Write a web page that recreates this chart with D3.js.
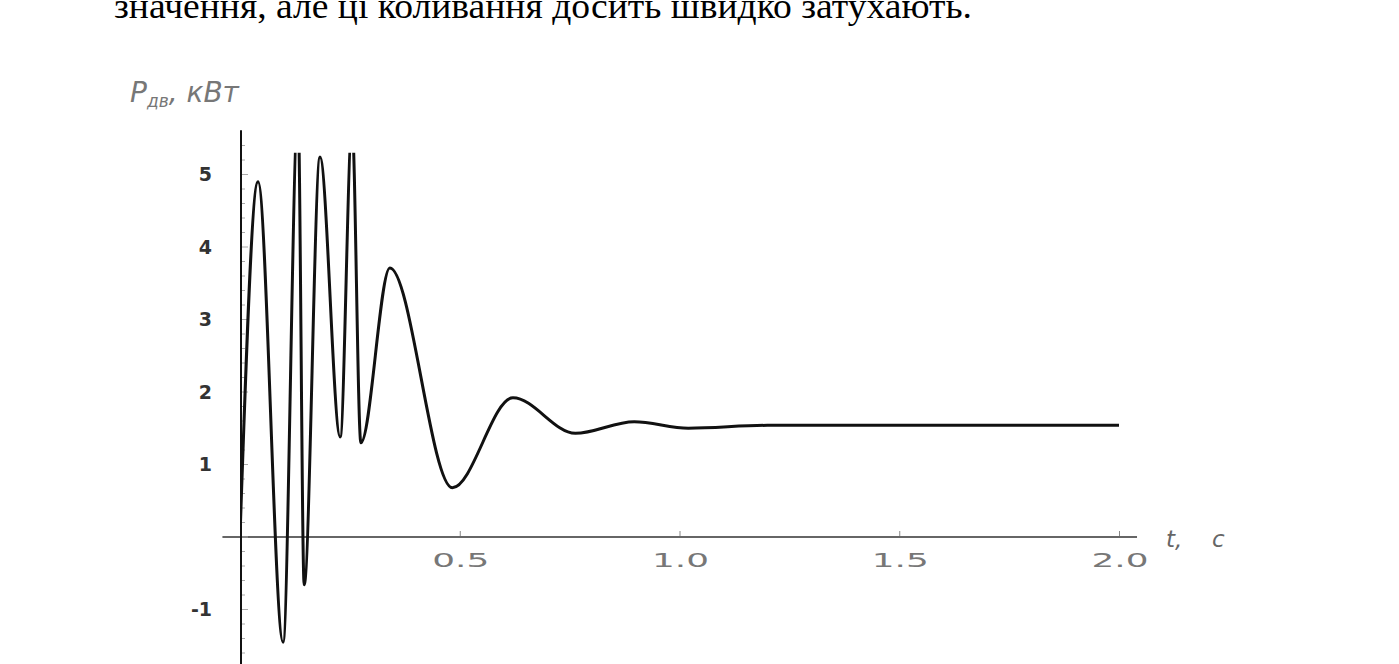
<!DOCTYPE html>
<html>
<head>
<meta charset="utf-8">
<script src="https://cdn.jsdelivr.net/npm/d3@7"></script>
<style>
  body { margin: 0; background: #fff; }
  svg { display: block; }
</style>
</head>
<body>
<script>
// time, s
var tValues = [0, 0.041, 0.098, 0.132, 0.146, 0.182, 0.228, 0.255, 0.275, 0.341, 0.483, 0.621, 0.763, 0.897, 1.02, 1.2, 1.5, 2.0];
// P_дв, кВт
var pValues = [0, 4.90, -1.45, 5.9, -0.66, 5.24, 1.38, 5.7, 1.30, 3.71, 0.68, 1.92, 1.43, 1.59, 1.50, 1.54, 1.54, 1.54];
var xTicks = [0.5, 1.0, 1.5, 2.0];
var yTicks = [-1, 1, 2, 3, 4, 5];
var topText = "значення, але ці коливання досить швидко затухають.";

var W = 1399, H = 664;

var x = d3.scaleLinear().domain([0, 2.0]).range([240, 1119]);
var y = d3.scaleLinear().domain([0, 5]).range([537, 174.5]);

var data = tValues.map(function (t, i) { return {t: t, p: pValues[i]}; });

var svg = d3.select("body").append("svg")
	.attr("width", W)
	.attr("height", H);

// line of page text cut at the top
svg.append("text")
	.attr("x", 114)
	.attr("y", 18)
	.attr("textLength", 858)
	.attr("lengthAdjust", "spacingAndGlyphs")
	.style("font-family", "'Liberation Serif', 'Times New Roman', serif")
	.style("font-size", "36px")
	.attr("fill", "#000")
	.text(topText);

svg.append("defs").append("clipPath")
	.attr("id", "plot-clip")
	.append("rect")
	.attr("x", x(0))
	.attr("y", y(5.3))
	.attr("width", x(2.05) - x(0))
	.attr("height", H - y(5.3));

// axes lines
svg.append("line")
	.attr("x1", x(-0.04)).attr("x2", x(2.041))
	.attr("y1", y(0)).attr("y2", y(0))
	.attr("stroke", "#666")
	.attr("stroke-width", 2);

svg.append("line")
	.attr("x1", x(0) + 1).attr("x2", x(0) + 1)
	.attr("y1", y(5.61)).attr("y2", H)
	.attr("stroke", "#111")
	.attr("stroke-width", 2);

// y axis labels
var yAxis = svg.append("g")
	.attr("transform", "translate(" + (x(0) - 28) + ",0)")
	.call(d3.axisLeft(y)
		.tickValues(yTicks)
		.tickSize(0)
		.tickPadding(0)
		.tickFormat(function (d) { return String(d); }));
yAxis.select(".domain").remove();
yAxis.selectAll("text")
	.style("font-family", "'DejaVu Sans', Verdana, sans-serif")
	.style("font-size", "19px")
	.style("font-weight", "bold")
	.attr("fill", "#333");

// y minor ticks
var yMinor = d3.range(-1.6, 5.45, 0.2);
svg.append("g").selectAll("line")
	.data(yMinor)
	.enter().append("line")
	.attr("x1", x(0) + 2)
	.attr("x2", function (d) { return x(0) + (Math.abs(d - Math.round(d)) < 0.01 ? 8 : 5); })
	.attr("y1", function (d) { return y(d); })
	.attr("y2", function (d) { return y(d); })
	.attr("stroke", "#aaa")
	.attr("stroke-width", 1);

// x axis labels
var xAxis = svg.append("g")
	.attr("transform", "translate(0," + y(0) + ")")
	.call(d3.axisBottom(x)
		.tickValues(xTicks)
		.tickSize(0)
		.tickPadding(0)
		.tickFormat(d3.format(".1f")));
xAxis.select(".domain").remove();
xAxis.selectAll("text")
	.attr("dy", null)
	.attr("y", 30)
	.attr("x", -28)
	.attr("text-anchor", "start")
	.attr("textLength", 57)
	.attr("lengthAdjust", "spacingAndGlyphs")
	.style("font-family", "'DejaVu Sans', Verdana, sans-serif")
	.style("font-size", "20px")
	.attr("fill", "#777");
xAxis.selectAll(".tick").append("line")
	.attr("y1", -1).attr("y2", -6)
	.attr("stroke", "#888");

// axis titles
var pTitle = svg.append("text")
	.attr("x", 130)
	.attr("y", 102)
	.style("font-family", "'DejaVu Sans', Verdana, sans-serif")
	.style("font-style", "italic")
	.attr("fill", "#777");
pTitle.append("tspan").style("font-size", "28px").text("P");
pTitle.append("tspan").style("font-size", "17px").attr("dy", 5).text("дв");
pTitle.append("tspan").style("font-size", "28px").attr("dy", -5).text(", кВт");

var tTitle = svg.append("text")
	.attr("y", 547)
	.style("font-family", "'DejaVu Sans', Verdana, sans-serif")
	.style("font-style", "italic")
	.style("font-size", "23px")
	.attr("fill", "#666");
tTitle.append("tspan").attr("x", 1166).text("t,");
tTitle.append("tspan").attr("x", 1212).text("c");

// curve
var line = d3.line()
	.x(function (d) { return x(d.t); })
	.y(function (d) { return y(d.p); })
	.curve(d3.curveMonotoneX);

svg.append("path")
	.datum(data)
	.attr("clip-path", "url(#plot-clip)")
	.attr("fill", "none")
	.attr("stroke", "#111")
	.attr("stroke-width", 3)
	.attr("d", line);
</script>
</body>
</html>
